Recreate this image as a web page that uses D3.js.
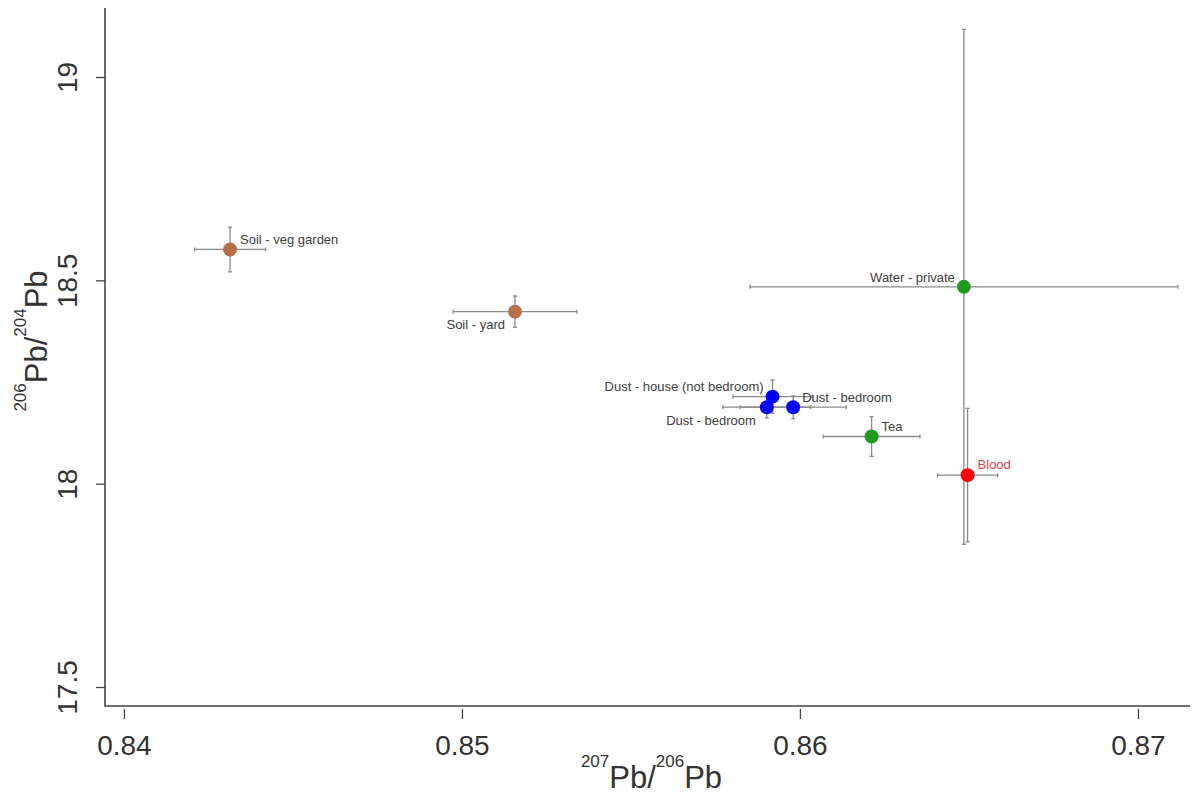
<!DOCTYPE html>
<html>
<head>
<meta charset="utf-8">
<script src="https://cdn.jsdelivr.net/npm/d3@7"></script>
<style>
  body { margin: 0; background: #fff; }
  svg { display: block; font-family: "Liberation Sans", Arial, sans-serif; }
</style>
</head>
<body>
<div id="chart"></div>
<script>
// Samples: 207Pb/206Pb (x) and 206Pb/204Pb (y) with error ranges
var labels = ["Soil - veg garden", "Soil - yard", "Dust - house (not bedroom)", "Dust - bedroom",
              "Dust - bedroom", "Tea", "Water - private", "Blood"];
var groups = ["Soil", "Soil", "Dust", "Dust", "Dust", "Tea", "Water", "Blood"];
var x207 = [0.84314, 0.85157, 0.85919, 0.85980, 0.85902, 0.86212, 0.86485, 0.86496];
var y206 = [18.576, 18.423, 18.214, 18.188, 18.188, 18.116, 18.484, 18.021];
var xErr = [0.00105, 0.00183, 0.00117, 0.00157, 0.00130, 0.00143, 0.00633, 0.00089];
var yErr = [0.055, 0.0385, 0.041, 0.028, 0.027, 0.049, 0.633, 0.164];

var xTicks = [0.84, 0.85, 0.86, 0.87];
var yTicks = [17.5, 18, 18.5, 19];

// label placement relative to point (dx, dy, anchor)
var labelPos = [[10, -5, "start"], [-10, 17, "end"], [-9, -6, "end"], [9, -5, "start"],
                [-11, 18, "end"], [10, -6, "start"], [-9, -5, "end"], [10, -6, "start"]];

var W = 1193, H = 794;
var plotL = 105, plotR = 1190, plotT = 8, plotB = 706;

var color = d3.scaleOrdinal()
  .domain(["Soil", "Dust", "Tea", "Water", "Blood"])
  .range(["#b5704a", "#0000ff", "#1f9a1f", "#1f9a1f", "#ff0000"]);

var data = labels.map(function(d, i) {
  return {label: d, group: groups[i], x: x207[i], y: y206[i], ex: xErr[i], ey: yErr[i], pos: labelPos[i]};
});

var svg = d3.select("#chart").append("svg")
  .attr("width", W)
  .attr("height", H);

var x = d3.scaleLinear().domain([0.83944, 0.87154]).range([plotL, plotR]);
var y = d3.scaleLinear().domain([17.4533, 19.1697]).range([plotB, plotT]);

// X axis
var xAxis = d3.axisBottom(x).tickValues(xTicks).tickSize(13).tickFormat(d3.format("~g"));
var gx = svg.append("g").attr("transform", "translate(0," + plotB + ")").call(xAxis);
gx.select(".domain").remove();
gx.selectAll(".tick line").attr("y1", 3).attr("stroke", "#444").attr("stroke-width", 1.3);
gx.selectAll(".tick text").attr("y", 49).attr("dy", 0)
  .attr("font-size", 28).attr("fill", "#333").attr("font-family", "Liberation Sans, Arial, sans-serif");

// Y axis
var yAxis = d3.axisLeft(y).tickValues(yTicks).tickSize(9).tickFormat(d3.format("~g"));
var gy = svg.append("g").attr("transform", "translate(" + plotL + ",0)").call(yAxis);
gy.select(".domain").remove();
gy.selectAll(".tick line").attr("stroke", "#444").attr("stroke-width", 1.3);
gy.selectAll(".tick text")
  .attr("x", 0).attr("dy", 0)
  .attr("transform", "translate(-28,0) rotate(-90)")
  .attr("text-anchor", "middle")
  .attr("font-size", 28).attr("fill", "#333").attr("font-family", "Liberation Sans, Arial, sans-serif");

// L-shaped frame
svg.append("path")
  .attr("d", "M" + plotL + "," + plotT + "V" + plotB + "H" + plotR)
  .attr("fill", "none")
  .attr("stroke", "#444")
  .attr("stroke-width", 1.6);

// Axis titles with superscripts
var xt = svg.append("text")
  .attr("x", (plotL + plotR) / 2 + 4).attr("y", 788)
  .attr("text-anchor", "middle").attr("font-size", 31).attr("fill", "#333");
xt.append("tspan").attr("font-size", 17).attr("dy", -21).text("207");
xt.append("tspan").attr("dy", 21).text("Pb/");
xt.append("tspan").attr("font-size", 17).attr("dy", -21).text("206");
xt.append("tspan").attr("dy", 21).text("Pb");

var yt = svg.append("text")
  .attr("transform", "translate(47,341) rotate(-90)")
  .attr("text-anchor", "middle").attr("font-size", 31).attr("fill", "#333");
yt.append("tspan").attr("font-size", 17).attr("dy", -21).text("206");
yt.append("tspan").attr("dy", 21).text("Pb/");
yt.append("tspan").attr("font-size", 17).attr("dy", -21).text("204");
yt.append("tspan").attr("dy", 21).text("Pb");

// Error bars
var cap = 2;
var bars = svg.append("g").attr("stroke", "#8a8a8a").attr("stroke-width", 1.3).attr("fill", "none");
bars.selectAll(".ebar").data(data).enter()
  .append("path")
  .attr("class", "ebar")
  .attr("d", function(d) {
    var cx = x(d.x), cy = y(d.y);
    var x0 = x(d.x - d.ex), x1 = x(d.x + d.ex);
    var y0 = y(d.y + d.ey), y1 = y(d.y - d.ey);
    return "M" + x0 + "," + cy + "H" + x1 +
      "M" + x0 + "," + (cy - cap) + "V" + (cy + cap) +
      "M" + x1 + "," + (cy - cap) + "V" + (cy + cap) +
      "M" + cx + "," + y0 + "V" + y1 +
      "M" + (cx - cap) + "," + y0 + "H" + (cx + cap) +
      "M" + (cx - cap) + "," + y1 + "H" + (cx + cap);
  });

// Points
svg.selectAll(".dot").data(data).enter()
  .append("circle")
  .attr("class", "dot")
  .attr("cx", function(d) { return x(d.x); })
  .attr("cy", function(d) { return y(d.y); })
  .attr("r", 7)
  .attr("fill", function(d) { return color(d.group); });

// Labels
svg.selectAll(".lbl").data(data).enter()
  .append("text")
  .attr("class", "lbl")
  .attr("x", function(d) { return x(d.x) + d.pos[0]; })
  .attr("y", function(d) { return y(d.y) + d.pos[1]; })
  .attr("text-anchor", function(d) { return d.pos[2]; })
  .attr("font-size", 13)
  .attr("fill", function(d) { return d.group === "Blood" ? "#e8434b" : "#404040"; })
  .text(function(d) { return d.label; });
</script>
</body>
</html>
